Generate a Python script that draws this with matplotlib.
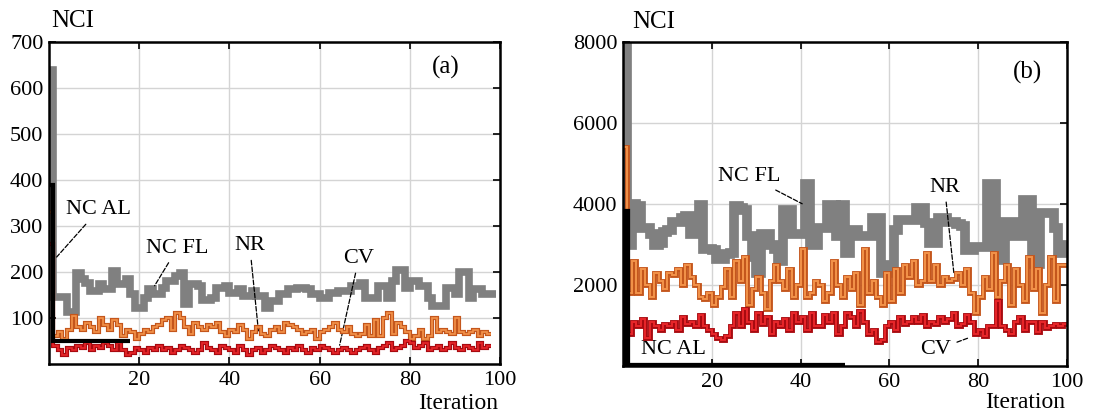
import numpy as np
import matplotlib.pyplot as plt

plt.rcParams["font.family"] = ["Liberation Serif", "DejaVu Serif"]
plt.rcParams["font.size"] = 16

# ---- panel (a) data (NCI per iteration) ----
a_nc_fl = [640, 146, 146, 146, 112, 112, 198, 184, 177, 158, 158, 173, 162, 162, 203,
           173, 173, 184, 152, 122, 122, 144, 162, 152, 152, 166, 180, 180, 191, 198,
           130, 173, 173, 170, 140, 140, 144, 166, 166, 170, 155, 155, 162, 148, 148,
           158, 148, 148, 122, 137, 137, 152, 152, 162, 162, 166, 166, 162, 152, 152,
           144, 144, 155, 155, 158, 158, 158, 170, 170, 177, 144, 144, 144, 170, 170,
           144, 180, 204, 204, 166, 180, 180, 170, 170, 144, 126, 126, 126, 166, 166,
           152, 200, 200, 144, 162, 162, 152, 152, 152]
a_nr = [330, 60, 70, 55, 75, 105, 80, 75, 90, 80, 70, 100, 85, 75, 95, 85, 60, 75, 70,
        55, 65, 75, 70, 80, 85, 95, 100, 75, 110, 100, 80, 65, 90, 80, 75, 85, 80, 90,
        70, 60, 75, 70, 85, 75, 55, 70, 80, 65, 60, 75, 80, 70, 90, 85, 80, 75, 65, 70,
        75, 55, 70, 75, 80, 90, 75, 70, 80, 65, 60, 65, 85, 60, 95, 60, 100, 110, 65, 90,
        80, 70, 55, 60, 75, 55, 60, 100, 70, 75, 70, 65, 100, 70, 65, 70, 75, 60, 70, 65]
a_cv = [260, 40, 30, 20, 35, 30, 40, 35, 45, 30, 40, 35, 45, 40, 30, 45, 30, 20, 25,
        35, 30, 25, 35, 30, 40, 30, 35, 25, 30, 40, 35, 30, 25, 30, 45, 35, 30, 25, 40,
        35, 30, 25, 40, 30, 20, 30, 35, 25, 30, 40, 35, 30, 25, 35, 30, 40, 30, 25, 35,
        30, 40, 35, 30, 25, 30, 35, 30, 25, 30, 35, 40, 30, 25, 35, 40, 45, 30, 35, 40,
        50, 45, 35, 40, 45, 30, 35, 40, 30, 35, 45, 35, 30, 40, 35, 30, 45, 35, 40]
a_nc_al = [390, 50, 50, 50, 50, 50, 50, 50, 50, 50, 50, 50, 50, 50, 50, 50, 50, 50]

# ---- panel (b) data ----
b_nc_fl = [8000, 3000, 4000, 3950, 3400, 3400, 3270, 3000, 3050, 3300, 3360, 3560,
           3560, 3650, 3700, 3270, 3300, 3975, 2900, 2880, 2860, 2650, 2650, 2770, 2780,
           3950, 3900, 3850, 3200, 2700, 2300, 3270, 3270, 3000, 2900, 2600, 3850, 3850,
           3270, 3270, 3270, 4500, 3000, 3000, 3400, 3400, 3975, 3975, 3200, 3975, 2800,
           3360, 3360, 3200, 3200, 3200, 3650, 3650, 2300, 2300, 2500, 3360, 3600, 3600,
           3600, 3600, 3900, 3900, 3530, 3030, 3030, 3650, 3650, 3560, 3560, 3500, 3450,
           2860, 2860, 2950, 2950, 2950, 4500, 4500, 2620, 2620, 3560, 3560, 3200, 3200,
           4100, 4100, 2530, 2530, 3770, 3770, 3770, 3400, 2800, 3000]
b_nr = [5400, 1800, 2600, 1800, 2400, 2000, 1700, 2300, 2100, 1900, 2300, 2250, 2400,
        2000, 2500, 2200, 2000, 1700, 1650, 1800, 1500, 1700, 1950, 2400, 1700, 2600,
        2100, 2700, 1500, 1900, 2200, 1800, 1400, 2100, 2500, 2100, 1900, 2400, 1700,
        2000, 2900, 1700, 1800, 2100, 2000, 1600, 1800, 2600, 2000, 1700, 2200, 1900,
        2300, 1500, 2900, 1800, 2100, 1700, 1500, 2300, 1600, 2400, 1800, 2500, 2200,
        2600, 2000, 2100, 2800, 2100, 2500, 2000, 2200, 2100, 2150, 2300, 2000, 2400,
        1800, 1300, 1700, 2200, 1900, 2800, 1700, 2100, 2500, 1500, 2400, 2000, 1600,
        2700, 1900, 2400, 1300, 2000, 2700, 1600, 2500, 2500]
# CV in panel (b) starts at iteration 1
b_cv = [800, 1100, 1000, 1150, 700, 1100, 1000, 900, 1050, 1000, 1100, 900, 1200,
        1050, 1100, 1000, 1250, 1000, 900, 800, 700, 650, 750, 1000, 1300, 1000, 1400,
        1100, 900, 1300, 1050, 1200, 800, 1100, 1000, 1150, 900, 1300, 1100, 1200, 900,
        1300, 1000, 1000, 1250, 1100, 1300, 800, 1000, 1300, 1200, 1000, 1350, 1100,
        800, 900, 600, 650, 1000, 1100, 900, 1200, 1050, 1100, 1200, 1100, 1250, 1000,
        1100, 1050, 1200, 1100, 1150, 1300, 1000, 1050, 1250, 1100, 800, 900, 750, 1000,
        1000, 1600, 1000, 900, 800, 1100, 1200, 900, 1100, 1100, 850, 1100, 950, 1000,
        1050, 1000, 1050]
b_nc_al = [3800] + [0] * 49

x_ticks = [20, 40, 60, 80, 100]
a_y_ticks = [100, 200, 300, 400, 500, 600, 700]
b_y_ticks = [2000, 4000, 6000, 8000]

GRAY = "#808080"
ORANGE_EDGE, ORANGE = "#c4561c", "#f3934a"
RED_EDGE, RED = "#a80a10", "#e8262a"


def stairs(ax, vals, color, lw, z, start=0):
    ax.stairs(vals, np.arange(len(vals) + 1) + start, baseline=None, color=color,
              linewidth=lw, zorder=z)


def style_axes(ax, ylim, yticks):
    ax.set_xlim(0, 100)
    ax.set_ylim(*ylim)
    ax.set_xticks(x_ticks)
    ax.set_yticks(yticks)
    ax.grid(True, color="#d4d4d4", linewidth=1.0, zorder=0)
    ax.tick_params(direction="in", top=True, right=True, length=5, width=1.2,
                   labelsize=16)
    ax.tick_params(axis="y", pad=4)
    ax.tick_params(axis="x", pad=5)
    for s in ax.spines.values():
        s.set_linewidth(1.8)
        s.set_zorder(10)


fig = plt.figure(figsize=(10.95, 4.16), dpi=100)
ax1 = fig.add_axes([0.0447, 0.125, 0.412, 0.774])
ax2 = fig.add_axes([0.569, 0.120, 0.4055, 0.779])

# panel (a)
stairs(ax1, a_nc_fl, GRAY, 5.5, 3)
stairs(ax1, a_nr, ORANGE_EDGE, 3.0, 4)
stairs(ax1, a_nr, ORANGE, 1.2, 5)
stairs(ax1, a_cv, RED_EDGE, 3.0, 4)
stairs(ax1, a_cv, RED, 1.2, 5)
stairs(ax1, a_nc_al, "black", 3.0, 6)
style_axes(ax1, (0, 700), a_y_ticks)

dash = dict(arrowstyle="-", linestyle="--", color="black", linewidth=0.9)
ax1.annotate("NC AL", xy=(1.3, 228), xytext=(11, 335), ha="center", va="center",
             arrowprops=dash)
ax1.annotate("NC FL", xy=(23.1, 165), xytext=(28.5, 252), ha="center", va="center",
             arrowprops=dash)
ax1.annotate("NR", xy=(46.5, 65), xytext=(44.5, 258), ha="center", va="center",
             arrowprops=dash)
ax1.annotate("CV", xy=(64.3, 35), xytext=(68.7, 230), ha="center", va="center",
             arrowprops=dash)
ax1.text(88, 645, "(a)", ha="center", va="center", fontsize=18)
ax1.text(0.6, 745, "NCI", ha="left", va="center", fontsize=18, clip_on=False)
ax1.text(99.5, -85, "Iteration", ha="right", va="center", fontsize=17, clip_on=False)

# panel (b)
stairs(ax2, b_nc_fl, GRAY, 7.0, 3)
stairs(ax2, b_nr, ORANGE_EDGE, 3.5, 4)
stairs(ax2, b_nr, ORANGE, 1.4, 5)
stairs(ax2, b_cv, RED_EDGE, 3.5, 4, start=1)
stairs(ax2, b_cv, RED, 1.4, 5, start=1)
stairs(ax2, b_nc_al, "black", 4.5, 6)
style_axes(ax2, (0, 8000), b_y_ticks)

ax2.annotate("NC FL", xy=(40.9, 3975), xytext=(28.5, 4680), ha="center", va="center",
             arrowprops=dash)
ax2.annotate("NR", xy=(74.6, 2200), xytext=(72.4, 4420), ha="center", va="center",
             arrowprops=dash)
ax2.annotate("CV", xy=(78.4, 720), xytext=(70.5, 400), ha="center", va="center",
             arrowprops=dash)
ax2.text(11.3, 400, "NC AL", ha="center", va="center")
ax2.text(91, 7250, "(b)", ha="center", va="center", fontsize=18)
ax2.text(2, 8490, "NCI", ha="left", va="center", fontsize=18, clip_on=False)
ax2.text(99.5, -910, "Iteration", ha="right", va="center", fontsize=17, clip_on=False)

fig.savefig("out.png", dpi=100)
